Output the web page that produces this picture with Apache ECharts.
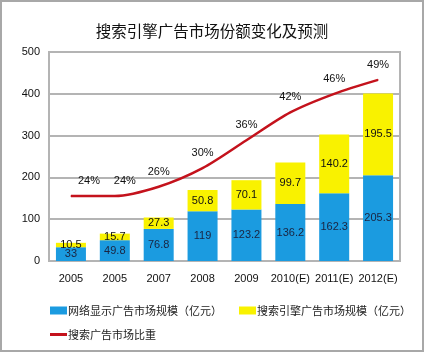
<!DOCTYPE html>
<html>
<head>
<meta charset="utf-8">
<script src="https://cdn.jsdelivr.net/npm/echarts@6/dist/echarts.min.js"></script>
<style>
  html, body { margin: 0; padding: 0; background: #fff; }
  #wrap { width: 424px; height: 352px; box-sizing: border-box; border: 2px solid #a8a8a8; position: relative; }
  #chart { position: absolute; left: -2px; top: -2px; width: 424px; height: 352px; }
</style>
</head>
<body>
<div id="wrap"><div id="chart"></div></div>
<script>
// 数据
const years = ['2005', '2005', '2007', '2008', '2009', '2010(E)', '2011(E)', '2012(E)'];
const displayAd = [33, 49.8, 76.8, 119, 123.2, 136.2, 162.3, 205.3];
const searchAd = [10.5, 15.7, 27.3, 50.8, 70.1, 99.7, 140.2, 195.5];
const searchShare = [24, 24, 26, 30, 36, 42, 46, 49];
const yTicks = [0, 100, 200, 300, 400, 500];

const font = 'Arial, "Liberation Sans", "Noto Sans CJK SC", sans-serif';
const cjk = '"Noto Sans CJK SC", sans-serif';
const chart = echarts.init(document.getElementById('chart'));

// 前两个百分比标签在原图中偏右
const shareLabelShift = [18, 10];

const option = {
  animation: false,
  title: {
    text: '搜索引擎广告市场份额变化及预测',
    left: 'center',
    top: 18,
    textStyle: { fontSize: 15.5, fontWeight: 'normal', color: '#111', fontFamily: cjk }
  },
  legend: [
    {
      left: 45, top: 300, width: 380,
      itemWidth: 17, itemHeight: 8, itemGap: 17,
      icon: 'rect',
      data: ['网络显示广告市场规模（亿元）', '搜索引擎广告市场规模（亿元）'],
      textStyle: { fontSize: 11, color: '#222', padding: [0, 0, 0, -4], fontFamily: cjk }
    },
    {
      left: 45, top: 324,
      itemWidth: 17, itemHeight: 3,
      icon: 'rect',
      data: ['搜索广告市场比重'],
      textStyle: { fontSize: 11, color: '#222', padding: [0, 0, 0, -4], fontFamily: cjk }
    }
  ],
  grid: {
    left: 49, right: 24, top: 52, bottom: 91,
    show: true, borderColor: '#b4b4b4', borderWidth: 2
  },
  xAxis: {
    type: 'category',
    data: years,
    axisLine: { lineStyle: { color: '#b4b4b4', width: 2 } },
    axisTick: { show: false },
    axisLabel: { color: '#111', fontSize: 11, margin: 12, fontFamily: font, interval: 0 }
  },
  yAxis: [
    {
      type: 'value',
      min: yTicks[0], max: yTicks[yTicks.length - 1], interval: 100,
      axisLine: { show: true, lineStyle: { color: '#b4b4b4', width: 2 } },
      axisTick: { show: false },
      splitLine: { lineStyle: { color: '#b4b4b4', width: 2 } },
      axisLabel: { color: '#111', fontSize: 11, margin: 9, fontFamily: font }
    },
    {
      type: 'value', min: 10, max: 55, show: false,
      splitLine: { show: false }
    }
  ],
  series: [
    {
      name: '网络显示广告市场规模（亿元）',
      type: 'bar', stack: 'ad', barWidth: 30,
      itemStyle: { color: '#1b9be0' },
      label: { show: true, position: 'inside', color: '#1a2440', fontSize: 11, fontFamily: font },
      data: displayAd
    },
    {
      name: '搜索引擎广告市场规模（亿元）',
      type: 'bar', stack: 'ad', barWidth: 30,
      itemStyle: { color: '#f9f200' },
      label: { show: true, position: 'inside', color: '#111', fontSize: 11, fontFamily: font },
      data: searchAd
    },
    {
      name: '搜索广告市场比重',
      type: 'line', yAxisIndex: 1,
      smooth: 0.3, symbol: 'circle', symbolSize: 1, showSymbol: true,
      lineStyle: { color: '#c4121c', width: 2.5 },
      itemStyle: { color: '#c4121c' },
      label: { show: true, position: 'top', distance: 9, formatter: '{c}%', color: '#111', fontSize: 11, fontFamily: font },
      data: searchShare.map((v, i) => i < shareLabelShift.length
        ? { value: v, label: { offset: [shareLabelShift[i], 0] } }
        : v)
    }
  ]
};

chart.setOption(option);
</script>
</body>
</html>
